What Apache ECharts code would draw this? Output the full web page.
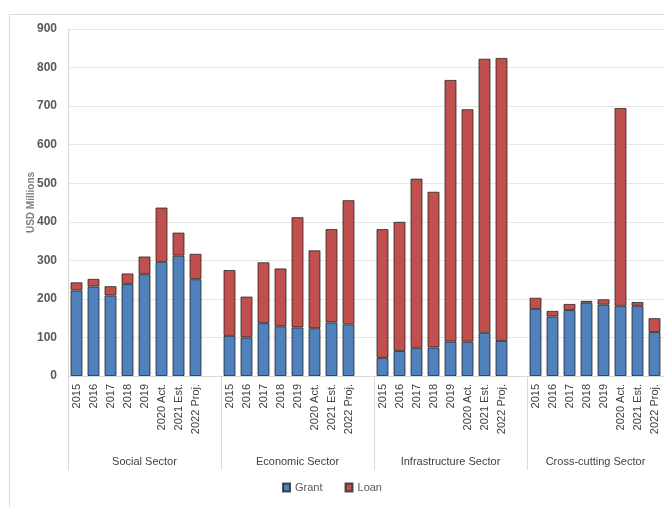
<!DOCTYPE html>
<html>
<head>
<meta charset="utf-8">
<script src="https://cdn.jsdelivr.net/npm/echarts@6/dist/echarts.min.js"></script>
<style>html,body{margin:0;padding:0;background:#fff}#c{width:664px;height:507px}</style>
</head>
<body>
<div id="c"></div>
<script>
var years = ['2015','2016','2017','2018','2019','2020 Act.','2021 Est.','2022 Proj.'];
var sectors = ['Social Sector','Economic Sector','Infrastructure Sector','Cross-cutting Sector'];
var yTicks = [0,100,200,300,400,500,600,700,800,900];

var socialGrant = [222, 232, 209, 239, 264, 296, 312, 251];
var socialLoan  = [ 21,  20,  24,  27,  46, 141,  60,  66];
var economicGrant = [104, 100, 137, 129, 126, 124, 139, 134];
var economicLoan  = [171, 106, 158, 150, 286, 202, 242, 322];
var infraGrant = [ 47,  65,  73,  74,  89,  89, 112,  91];
var infraLoan  = [334, 335, 439, 404, 679, 603, 711, 734];
var crossGrant = [174, 154, 171, 190, 185, 182, 182, 114];
var crossLoan  = [ 29,  15,  16,   5,  14, 513,  10,  36];

var grantBySector = [socialGrant, economicGrant, infraGrant, crossGrant];
var loanBySector = [socialLoan, economicLoan, infraLoan, crossLoan];

var cats = [], grant = [], loan = [];
for (var s = 0; s < sectors.length; s++) {
  for (var i = 0; i < years.length; i++) {
    cats.push(years[i]); grant.push(grantBySector[s][i]); loan.push(loanBySector[s][i]);
  }
  cats.push(' ' + s); grant.push(null); loan.push(null);
}

var chart = echarts.init(document.getElementById('c'), null, {renderer: 'canvas'});
var txt = '#404040';
chart.setOption({
  animation: false,
  backgroundColor: '#fff',
  graphic: [{
    type: 'rect', left: 7, top: 12, shape: {width: 900, height: 700},
    style: {fill: 'none', stroke: '#d9d9d9', lineWidth: 1}, silent: true, z: -1
  }],
  grid: {left: 68, top: 29, width: 612, height: 347, containLabel: false, outerBoundsMode: 'none'},
  legend: {
    data: ['Grant', 'Loan'], bottom: 9, left: 'center',
    itemWidth: 7, itemHeight: 8, itemGap: 22, icon: 'rect',
    textStyle: {fontFamily: 'Liberation Sans', fontSize: 11, color: '#595959'}
  },
  xAxis: [{
    type: 'category', data: cats, position: 'bottom',
    axisLine: {show: true, lineStyle: {color: '#d9d9d9'}},
    axisTick: {show: false},
    axisLabel: {
      interval: 0, rotate: 90, margin: 8, fontSize: 11, color: txt,
      fontFamily: 'Liberation Sans',
      formatter: function (v) { return v.charAt(0) === ' ' ? '' : v; }
    }
  }, {
    type: 'category', data: sectors, position: 'bottom',
    axisLine: {show: false},
    axisTick: {show: true, length: 94, inside: false, lineStyle: {color: '#d9d9d9'}},
    axisLabel: {interval: 0, margin: 80, fontSize: 11, color: txt, fontFamily: 'Liberation Sans',
      formatter: function (v, idx) { return idx === sectors.length - 1 ? '{s|' + v + '}' : v; },
      rich: {s: {fontSize: 11, color: txt, fontFamily: 'Liberation Sans', padding: [0, 16, 0, 0]}}}
  }],
  yAxis: {
    type: 'value', min: 0, max: 900, interval: 100,
    name: 'USD Millions', nameLocation: 'middle', nameGap: 32, nameRotate: 90, nameMoveOverlap: false,
    nameTextStyle: {fontSize: 10, fontWeight: 'bold', color: '#7f7f7f', fontFamily: 'Liberation Sans'},
    axisLine: {show: true, lineStyle: {color: '#d9d9d9'}},
    axisTick: {show: false},
    axisLabel: {margin: 11, fontSize: 12, color: '#595959', fontWeight: 'bold', fontFamily: 'Liberation Sans',
      formatter: function (v) { return yTicks.indexOf(v) >= 0 ? String(v) : ''; }},
    splitLine: {lineStyle: {color: '#e6e6e6'}}
  },
  series: [{
    name: 'Grant', type: 'bar', stack: 'a', data: grant, barWidth: 12, xAxisIndex: 0,
    itemStyle: {color: '#4F81BD', borderColor: 'rgba(30,30,30,0.75)', borderWidth: 1}
  }, {
    name: 'Loan', type: 'bar', stack: 'a', data: loan, barWidth: 12, xAxisIndex: 0,
    itemStyle: {color: '#C0504D', borderColor: 'rgba(30,30,30,0.75)', borderWidth: 1}
  }]
});
</script>
</body>
</html>
